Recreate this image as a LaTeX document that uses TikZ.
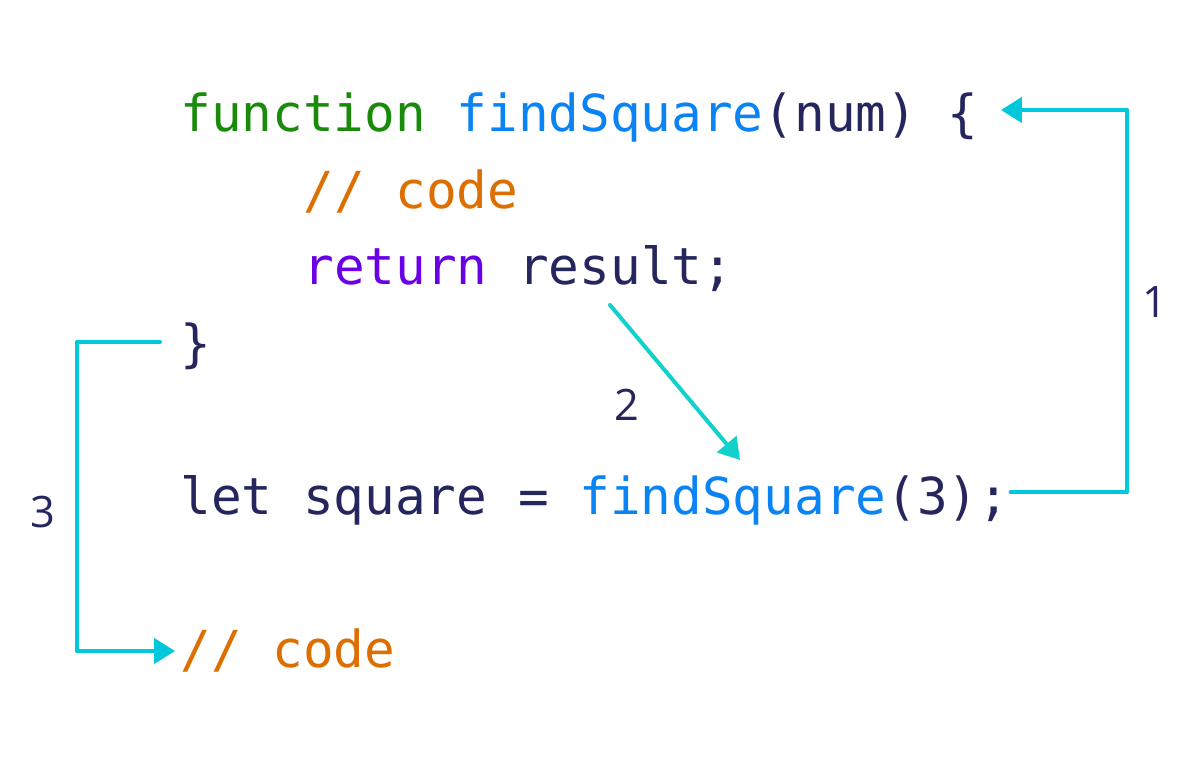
\documentclass[tikz,border=0pt]{standalone}
\usepackage{fontspec}
\setmainfont{Open Sans}
\setmonofont{DejaVu Sans Mono}
\usetikzlibrary{positioning,arrows.meta}
\definecolor{navy}{HTML}{25265E}
\definecolor{kwgreen}{HTML}{1A8A0A}
\definecolor{fnblue}{HTML}{0A84F5}
\definecolor{cmorange}{HTML}{DD6E00}
\definecolor{retpurple}{HTML}{6A00E6}
\definecolor{flowc}{HTML}{00C8DC}
\definecolor{flowt}{HTML}{12D0CA}

\begin{document}
\begin{tikzpicture}[x=0.6pt,y=-0.6pt,
    code/.style={anchor=base west,inner sep=0,text=navy,font=\ttfamily\fontsize{30.6}{36}\selectfont},
    num/.style={inner sep=0,text=navy,font=\fontsize{26}{30}\selectfont},
    flow/.style={draw=flowc,line width=2.4pt,line cap=round,line join=round,
      -{Triangle[length=12.5pt,width=15pt]}}]
  \useasboundingbox (0,0) rectangle (1200,763);
  % code lines
  \node[code] (head) at (180,132) {\color{kwgreen}function \color{fnblue}findSquare\color{navy}(num) \{};
  \node[code] (cmt) at (303,208.5) {\color{cmorange}// code};
  \node[code] (ret) at (303,285) {\color{retpurple}return \color{navy}result;};
  \node[code] (close) at (180,361.5) {\}};
  \node[code] (call) at (180,514.5) {let square = \color{fnblue}findSquare\color{navy}(3);};
  \node[code] (after) at (180,667.5) {\color{cmorange}// code};
  % steps
  \coordinate (rail) at (1127,110);
  \coordinate (brace) at ([xshift=13.2pt,yshift=13.2pt]head.base east);
  \coordinate (res) at (610,305);
  \coordinate (sq) at (740,460);
  \draw[flow] ([xshift=0.6pt,yshift=13.2pt]call.base east) -| (rail |- brace) -- (brace);
  \draw[flow,draw=flowt] (res) -- (sq);
  \draw[flow] ([xshift=-12pt,yshift=11.7pt]close.base west) -- ++(-83,0) |- ([xshift=-3pt,yshift=9.9pt]after.base west);
  \node[num] (n1) at (1155,302) {1};
  \node[num] (n2) at (627,405) {2};
  \node[num] (n3) at (43,512) {3};
\end{tikzpicture}
\end{document}
